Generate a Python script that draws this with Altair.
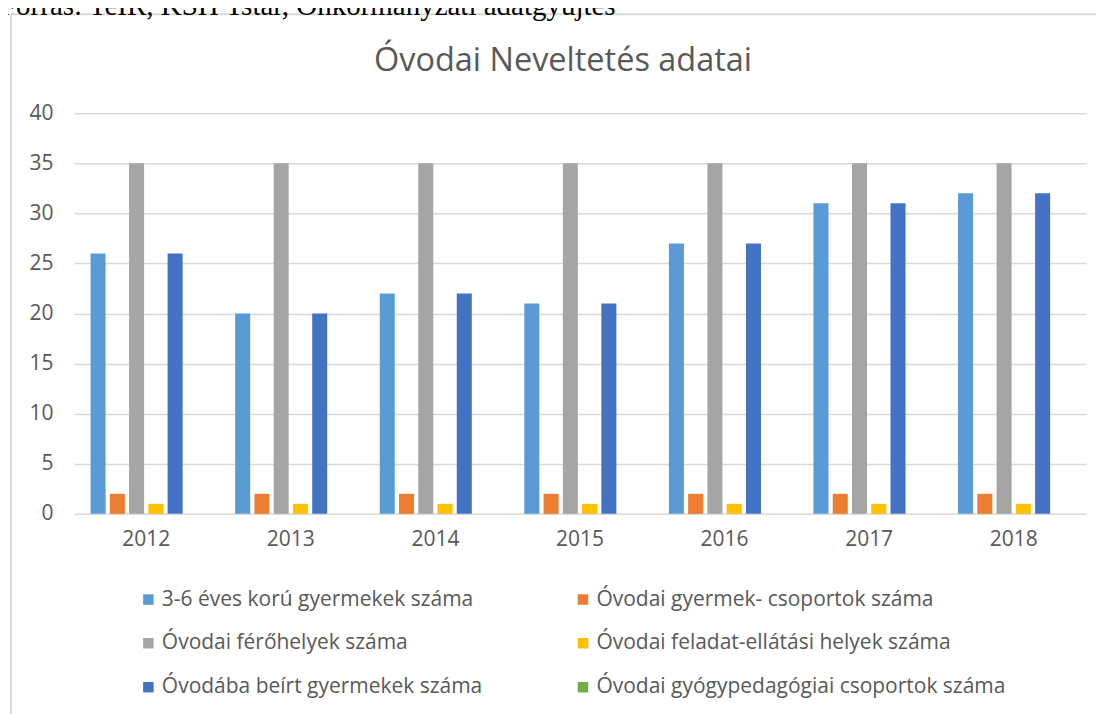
import altair as alt
import pandas as pd

years = ["2012", "2013", "2014", "2015", "2016", "2017", "2018"]
series = [
    "3-6 éves korú gyermekek száma",
    "Óvodai gyermek- csoportok száma",
    "Óvodai férőhelyek száma",
    "Óvodai feladat-ellátási helyek száma",
    "Óvodába beírt gyermekek száma",
    "Óvodai gyógypedagógiai csoportok száma",
]
colors = ["#5B9BD5", "#ED7D31", "#A5A5A5", "#FFC000", "#4472C4", "#70AD47"]

children_3_6 = [26, 20, 22, 21, 27, 31, 32]
groups = [2, 2, 2, 2, 2, 2, 2]
places = [35, 35, 35, 35, 35, 35, 35]
sites = [1, 1, 1, 1, 1, 1, 1]
enrolled = [26, 20, 22, 21, 27, 31, 32]
special_groups = [0, 0, 0, 0, 0, 0, 0]

values = [children_3_6, groups, places, sites, enrolled, special_groups]
rows = []
for s, vals in zip(series, values):
    for y, v in zip(years, vals):
        rows.append({"year": y, "series": s, "value": v})
df = pd.DataFrame(rows)

# legend fills column-wise: reorder so that it reads row by row like the original
legend_order = [0, 2, 4, 1, 3, 5]
legend_domain = [series[i] for i in legend_order]
legend_range = [colors[i] for i in legend_order]

W, H = 1013, 401
FONT = "Open Sans"
GRAY = "#595959"

bars = alt.Chart(df).mark_bar().encode(
    x=alt.X("year:N", sort=years, title=None,
            scale=alt.Scale(paddingInner=0.23, paddingOuter=0.115),
            axis=alt.Axis(labelAngle=0, labelFontSize=21, labelColor=GRAY, labelFont=FONT,
                          ticks=False, domain=False, labelPadding=15)),
    xOffset=alt.XOffset("series:N", sort=series,
                        scale=alt.Scale(paddingInner=0.22, paddingOuter=0)),
    y=alt.Y("value:Q", title=None,
            scale=alt.Scale(domain=[0, 40]),
            axis=alt.Axis(values=[0, 5, 10, 15, 20, 25, 30, 35, 40], labelFontSize=21,
                          labelColor=GRAY, labelFont=FONT, ticks=False, domain=False,
                          labelPadding=21, gridColor="#D9D9D9", gridWidth=1.5)),
    color=alt.Color("series:N",
                    scale=alt.Scale(domain=legend_domain, range=legend_range),
                    legend=alt.Legend(title=None, orient="none", legendX=64, legendY=476,
                                      columns=2, columnPadding=90, rowPadding=22,
                                      symbolType="square", symbolSize=110, symbolStrokeWidth=0,
                                      labelFontSize=21, labelColor=GRAY, labelFont=FONT,
                                      labelLimit=600, symbolOffset=0, labelOffset=3)),
)

one = pd.DataFrame({"a": [0]})
border_top = alt.Chart(one).mark_rule(color="#D9D9D9", strokeWidth=2).encode(
    x=alt.value(-63), x2=alt.value(1100), y=alt.value(-99))
border_left = alt.Chart(one).mark_rule(color="#D9D9D9", strokeWidth=2).encode(
    x=alt.value(-63), y=alt.value(-99), y2=alt.value(700))
source = alt.Chart(pd.DataFrame({"t": ["Forrás: TeIR, KSH Tstar, Önkormányzati adatgyűjtés"]})).mark_text(
    font="Liberation Serif", fontSize=29, align="left", baseline="alphabetic", color="#000000").encode(
    x=alt.value(-74), y=alt.value(-98), text="t:N")
title = alt.Chart(pd.DataFrame({"t": ["Óvodai Neveltetés adatai"]})).mark_text(
    font=FONT, fontSize=32.5, align="center", baseline="middle", color=GRAY).encode(
    x=alt.value(W / 2 - 17), y=alt.value(-52), text="t:N")

chart = alt.layer(border_top, border_left, source, title, bars).properties(
    width=W, height=H,
    autosize=alt.AutoSizeParams(type="none"),
    padding={"left": 66, "top": 105, "right": 10, "bottom": 200},
).configure_view(stroke=None)

chart.save("out.html", embed_options={"renderer": "svg", "actions": False})
